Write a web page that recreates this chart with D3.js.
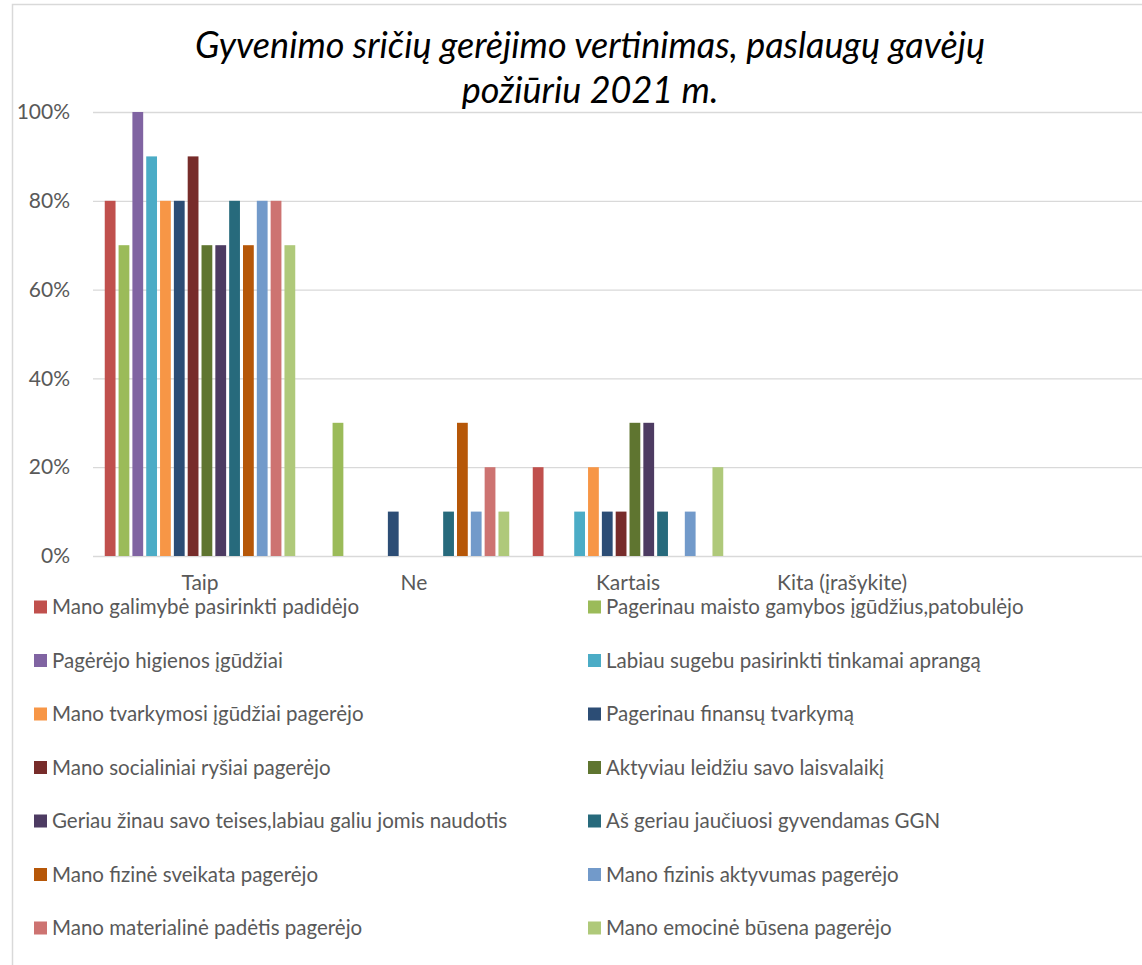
<!DOCTYPE html>
<html>
<head>
<meta charset="utf-8">
<script src="https://cdn.jsdelivr.net/npm/d3@7"></script>
<style>
  body { margin: 0; background: #fff; }
  svg { display: block; }
</style>
</head>
<body>
<div id="chart"></div>
<script>
// categories on the x axis
const categories = ['Taip', 'Ne', 'Kartais', 'Kita (įrašykite)'];

// series names (legend order)
const seriesNames = [
    'Mano galimybė pasirinkti padidėjo',
    'Pagerinau maisto gamybos įgūdžius,patobulėjo',
    'Pagėrėjo higienos įgūdžiai',
    'Labiau sugebu pasirinkti tinkamai aprangą',
    'Mano tvarkymosi įgūdžiai pagerėjo',
    'Pagerinau finansų tvarkymą',
    'Mano socialiniai ryšiai pagerėjo',
    'Aktyviau leidžiu savo laisvalaikį',
    'Geriau žinau savo teises,labiau galiu jomis naudotis',
    'Aš geriau jaučiuosi gyvendamas GGN',
    'Mano fizinė sveikata pagerėjo',
    'Mano fizinis aktyvumas pagerėjo',
    'Mano materialinė padėtis pagerėjo',
    'Mano emocinė būsena pagerėjo'
];

// values per category, one per series (share of respondents)
const taipValues    = [0.8, 0.7, 1.0, 0.9, 0.8, 0.8, 0.9, 0.7, 0.7, 0.8, 0.7, 0.8, 0.8, 0.7];
const neValues      = [0, 0.3, 0, 0, 0, 0.1, 0, 0, 0, 0.1, 0.3, 0.1, 0.2, 0.1];
const kartaisValues = [0.2, 0, 0, 0.1, 0.2, 0.1, 0.1, 0.3, 0.3, 0.1, 0, 0.1, 0, 0.2];
const kitaValues    = [0, 0, 0, 0, 0, 0, 0, 0, 0, 0, 0, 0, 0, 0];

const yTicks = [0, 0.2, 0.4, 0.6, 0.8, 1.0];

const colors = ['#C0504D', '#9BBB59', '#8064A2', '#4BACC6', '#F79646', '#2C4D75', '#772C2A',
    '#5F7530', '#4D3B62', '#276A7C', '#B65708', '#729ACA', '#CD7371', '#AFC97A'];

const valuesByCategory = [taipValues, neValues, kartaisValues, kitaValues];
let data = [];
categories.forEach(function (c, ci) {
    seriesNames.forEach(function (s, si) {
        data.push({ category: c, series: s, value: valuesByCategory[ci][si] });
    });
});

const width = 1142, height = 965;
const margin = { top: 112, left: 93, bottom: 409 };
const plotH = height - margin.top - margin.bottom;
const bandW = 214;
const font = 'Lato, "Open Sans", sans-serif';

let svg = d3.select('#chart')
    .append('svg')
    .attr('width', width)
    .attr('height', height);

// chart area border (only top / left visible in the crop)
svg.append('path')
    .attr('d', 'M12.5,' + height + 'V4.5H' + width)
    .attr('fill', 'none')
    .attr('stroke', '#D9D9D9')
    .attr('stroke-width', 1.5);

let x = d3.scaleBand()
    .domain(categories)
    .range([0, bandW * categories.length])
    .paddingInner(0)
    .paddingOuter(0);

let xs = d3.scaleBand()
    .domain(seriesNames)
    .range([0, x.bandwidth()])
    .paddingOuter(0.85)
    .paddingInner(0.22);

let y = d3.scaleLinear()
    .domain([0, 1])
    .range([plotH, 0]);

let g = svg.append('g')
    .attr('transform', 'translate(' + margin.left + ',' + margin.top + ')');

// y axis with gridlines
let yAxis = g.append('g')
    .call(d3.axisLeft(y).tickValues(yTicks).tickFormat(d3.format('.0%'))
        .tickSize(-(width - margin.left)).tickPadding(23));
yAxis.select('.domain').remove();
yAxis.selectAll('line').attr('stroke', '#D9D9D9').attr('stroke-width', 1.3);
yAxis.selectAll('text')
    .attr('fill', '#595959')
    .style('font-family', font)
    .style('font-size', '21px');

// bars
g.append('g')
    .selectAll('rect')
    .data(data.filter(function (d) { return d.value > 0; }))
    .enter().append('rect')
    .attr('x', function (d) { return x(d.category) + xs(d.series); })
    .attr('y', function (d) { return y(d.value); })
    .attr('width', xs.bandwidth())
    .attr('height', function (d) { return plotH - y(d.value); })
    .attr('fill', function (d) { return colors[seriesNames.indexOf(d.series)]; });

// category axis
let xAxis = g.append('g')
    .attr('transform', 'translate(0,' + plotH + ')')
    .call(d3.axisBottom(x).tickSize(0).tickPadding(19));
xAxis.select('.domain').remove();
xAxis.selectAll('text')
    .attr('fill', '#595959')
    .style('font-family', font)
    .style('font-size', '21px');

// title
let title = svg.append('text')
    .attr('x', 590)
    .attr('text-anchor', 'middle')
    .style('font-family', font)
    .style('font-style', 'italic')
    .style('font-size', '36px')
    .attr('fill', '#000');
title.append('tspan').attr('x', 590).attr('y', 58).text('Gyvenimo sričių gerėjimo vertinimas, paslaugų gavėjų');
title.append('tspan').attr('x', 590).attr('y', 103).text('požiūriu 2021 m.');

// legend, two columns, row-major
let legend = svg.append('g')
    .selectAll('g')
    .data(seriesNames)
    .enter().append('g')
    .attr('transform', function (d, i) {
        return 'translate(' + (i % 2 === 0 ? 34 : 588) + ',' + (607 + Math.floor(i / 2) * 53.5) + ')';
    });

legend.append('rect')
    .attr('x', 0)
    .attr('y', -6.5)
    .attr('width', 13)
    .attr('height', 13)
    .attr('fill', function (d, i) { return colors[i]; });

legend.append('text')
    .attr('x', 18)
    .attr('dy', '0.35em')
    .attr('fill', '#595959')
    .style('font-family', font)
    .style('font-size', '20.5px')
    .text(function (d) { return d; });
</script>
</body>
</html>
